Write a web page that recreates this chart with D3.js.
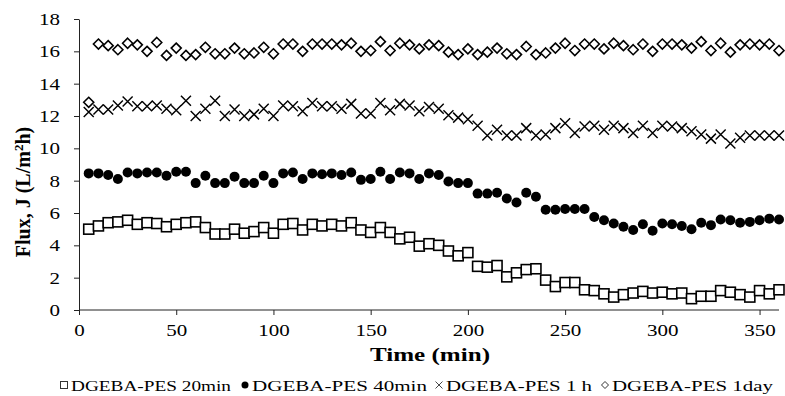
<!DOCTYPE html>
<html>
<head>
<meta charset="utf-8">
<script src="https://cdn.jsdelivr.net/npm/d3@7"></script>
<style>
  body { margin: 0; background: #fff; }
  svg { display: block; font-family: "Liberation Serif", "Times New Roman", serif; }
</style>
</head>
<body>
<div id="chart"></div>
<script>
// time points every 5 min, 5..360
const times = d3.range(5, 361, 5);

const flux20min = [5.0, 5.2, 5.4, 5.45, 5.55, 5.3, 5.4, 5.35, 5.15, 5.3, 5.4, 5.45, 5.1, 4.7, 4.7, 5.0, 4.75, 4.85,
  5.1, 4.75, 5.3, 5.35, 4.95, 5.3, 5.2, 5.3, 5.2, 5.4, 4.95, 4.8, 5.1, 4.8, 4.4, 4.5, 3.95, 4.1, 4.0, 3.65, 3.35, 3.55,
  2.7, 2.65, 2.75, 2.05, 2.3, 2.5, 2.55, 1.85, 1.45, 1.7, 1.7, 1.25, 1.2, 1.0, 0.8, 0.95, 1.05, 1.15, 1.05, 1.1, 1.0,
  1.05, 0.7, 0.85, 0.85, 1.2, 1.1, 0.95, 0.8, 1.2, 1.0, 1.25];

const flux40min = [8.45, 8.45, 8.35, 8.1, 8.5, 8.45, 8.5, 8.5, 8.3, 8.55, 8.55, 7.85, 8.3, 7.85, 7.85, 8.25, 7.85, 7.85,
  8.3, 7.85, 8.45, 8.5, 8.1, 8.45, 8.4, 8.45, 8.35, 8.5, 8.05, 8.1, 8.55, 8.1, 8.5, 8.45, 8.1, 8.45, 8.35, 7.95, 7.85, 7.85,
  7.2, 7.2, 7.25, 6.9, 6.65, 7.25, 7.0, 6.2, 6.2, 6.25, 6.25, 6.25, 5.75, 5.55, 5.35, 5.15, 4.95, 5.3, 4.9, 5.35, 5.3,
  5.2, 5.0, 5.4, 5.25, 5.6, 5.55, 5.4, 5.45, 5.55, 5.65, 5.6];

const flux1h = [12.25, 12.4, 12.4, 12.65, 12.9, 12.6, 12.6, 12.65, 12.45, 12.35, 12.95, 12.0, 12.45, 12.95, 12.0, 12.4, 12.0, 12.1,
  12.45, 12.0, 12.65, 12.6, 12.3, 12.8, 12.6, 12.6, 12.45, 12.75, 12.15, 12.15, 12.8, 12.35, 12.75, 12.65, 12.3, 12.55, 12.45, 12.05, 11.9, 11.8,
  11.4, 10.8, 11.15, 10.8, 10.8, 11.25, 10.8, 10.85, 11.25, 11.55, 10.95, 11.35, 11.4, 11.15, 11.4, 11.25, 10.95, 11.4, 10.95, 11.4, 11.35,
  11.25, 11.05, 10.85, 10.6, 10.85, 10.3, 10.65, 10.8, 10.8, 10.8, 10.8];

const flux1day = [12.85, 16.45, 16.35, 16.1, 16.5, 16.4, 16.0, 16.55, 15.75, 16.2, 15.75, 15.8, 16.25, 15.85, 15.85, 16.2, 15.85, 15.9,
  16.25, 15.85, 16.45, 16.45, 16.0, 16.45, 16.45, 16.45, 16.4, 16.5, 16.0, 16.05, 16.6, 16.05, 16.5, 16.4, 16.15, 16.4, 16.35, 15.95, 15.8, 16.15,
  15.8, 15.95, 16.2, 15.85, 15.8, 16.3, 15.8, 15.9, 16.2, 16.5, 16.05, 16.45, 16.45, 16.15, 16.5, 16.35, 16.1, 16.45, 16.0, 16.45, 16.45,
  16.4, 16.2, 16.6, 16.05, 16.5, 15.95, 16.4, 16.45, 16.4, 16.45, 16.05];

const xTicks = [0, 50, 100, 150, 200, 250, 300, 350];
const yTicks = [0, 2, 4, 6, 8, 10, 12, 14, 16, 18];

const seriesNames = ['DGEBA-PES 20min', 'DGEBA-PES 40min', 'DGEBA-PES 1 h', 'DGEBA-PES 1day'];
const seriesValues = [flux20min, flux40min, flux1h, flux1day];
const seriesMarkers = ['square', 'circle', 'cross', 'diamond'];

const width = 785, height = 396;
const margin = { top: 19, right: 6, bottom: 86, left: 79 };

const svg = d3.select('#chart').append('svg')
  .attr('width', width)
  .attr('height', height)
  .attr('viewBox', [0, 0, width, height]);

const x = d3.scaleLinear().domain([0, 360]).range([margin.left, width - margin.right]);
const y = d3.scaleLinear().domain([0, 18]).range([height - margin.bottom, margin.top]);

// the original font is horizontally stretched, so tick labels get a fixed width per digit
const digitW = 10.5;

svg.append('g')
  .attr('transform', `translate(0,${y(0)})`)
  .call(d3.axisBottom(x).tickValues(xTicks).tickSize(5).tickPadding(9).tickSizeOuter(0))
  .call(g => g.select('.domain').attr('stroke', '#222').attr('d', `M${x(0)},0H${x(360)}`))
  .call(g => g.selectAll('.tick line').attr('stroke', '#222'))
  .call(g => g.selectAll('.tick text').attr('font-size', 17).attr('fill', '#000')
    .attr('font-family', '"Liberation Serif", serif')
    .attr('textLength', d => String(d).length * digitW)
    .attr('lengthAdjust', 'spacingAndGlyphs'));

svg.append('g')
  .attr('transform', `translate(${x(0)},0)`)
  .call(d3.axisLeft(y).tickValues(yTicks).tickSize(5).tickPadding(14).tickSizeOuter(0))
  .call(g => g.select('.domain').attr('stroke', '#222'))
  .call(g => g.selectAll('.tick line').attr('stroke', '#222'))
  .call(g => g.selectAll('.tick text').attr('font-size', 17).attr('fill', '#000')
    .attr('font-family', '"Liberation Serif", serif')
    .attr('textLength', d => String(d).length * digitW)
    .attr('lengthAdjust', 'spacingAndGlyphs'));

// axis titles
svg.append('text')
  .attr('x', 430)
  .attr('y', 361)
  .attr('text-anchor', 'middle')
  .attr('font-size', 19)
  .attr('font-weight', 'bold')
  .attr('textLength', 120)
  .attr('lengthAdjust', 'spacingAndGlyphs')
  .text('Time (min)');

const yTitle = svg.append('text')
  .attr('transform', 'translate(30,192) rotate(-90)')
  .attr('text-anchor', 'middle')
  .attr('font-size', 20)
  .attr('font-weight', 'bold');
yTitle.append('tspan').text('Flux, J (L/m');
yTitle.append('tspan').attr('font-size', 13).attr('dy', -7).text('2');
yTitle.append('tspan').attr('dy', 7).text('h)');

// markers
function drawMarker(g, type, size, sw, col) {
  const h = size / 2;
  if (type === 'square') {
    g.append('rect').attr('x', -h).attr('y', -h).attr('width', size).attr('height', size)
      .attr('fill', '#fff').attr('stroke', col).attr('stroke-width', sw);
  } else if (type === 'circle') {
    g.append('circle').attr('r', h).attr('fill', '#000');
  } else if (type === 'cross') {
    g.append('path').attr('d', `M${-h},${-h}L${h},${h}M${-h},${h}L${h},${-h}`)
      .attr('stroke', col).attr('stroke-width', sw * 0.9).attr('fill', 'none');
  } else if (type === 'diamond') {
    g.append('path').attr('d', `M0,${-h}L${h},0L0,${h}L${-h},0Z`)
      .attr('fill', '#fff').attr('stroke', col).attr('stroke-width', sw);
  }
}

// draw in order: 1day, 1h, 40min, 20min
[3, 2, 1, 0].forEach(si => {
  const data = times.map((t, i) => ({ t, v: seriesValues[si][i] }));
  svg.append('g')
    .selectAll('g')
    .data(data)
    .join('g')
    .attr('transform', d => `translate(${x(d.t)},${y(d.v)})`)
    .each(function () { drawMarker(d3.select(this), seriesMarkers[si], 10, 1.6, '#000'); });
});

// legend
const legendX = [59, 240, 434, 600];
const legendTextLen = [160, 175, 146, 161];
seriesNames.forEach((name, i) => {
  const g = svg.append('g').attr('transform', `translate(${legendX[i]},385)`);
  const m = g.append('g').attr('transform', 'translate(5,0)');
  drawMarker(m, seriesMarkers[i], 7, 1, '#333');
  g.append('text')
    .attr('x', 12)
    .attr('y', 5.5)
    .attr('font-size', 15)
    .attr('textLength', legendTextLen[i])
    .attr('lengthAdjust', 'spacingAndGlyphs')
    .text(name);
});
</script>
</body>
</html>
